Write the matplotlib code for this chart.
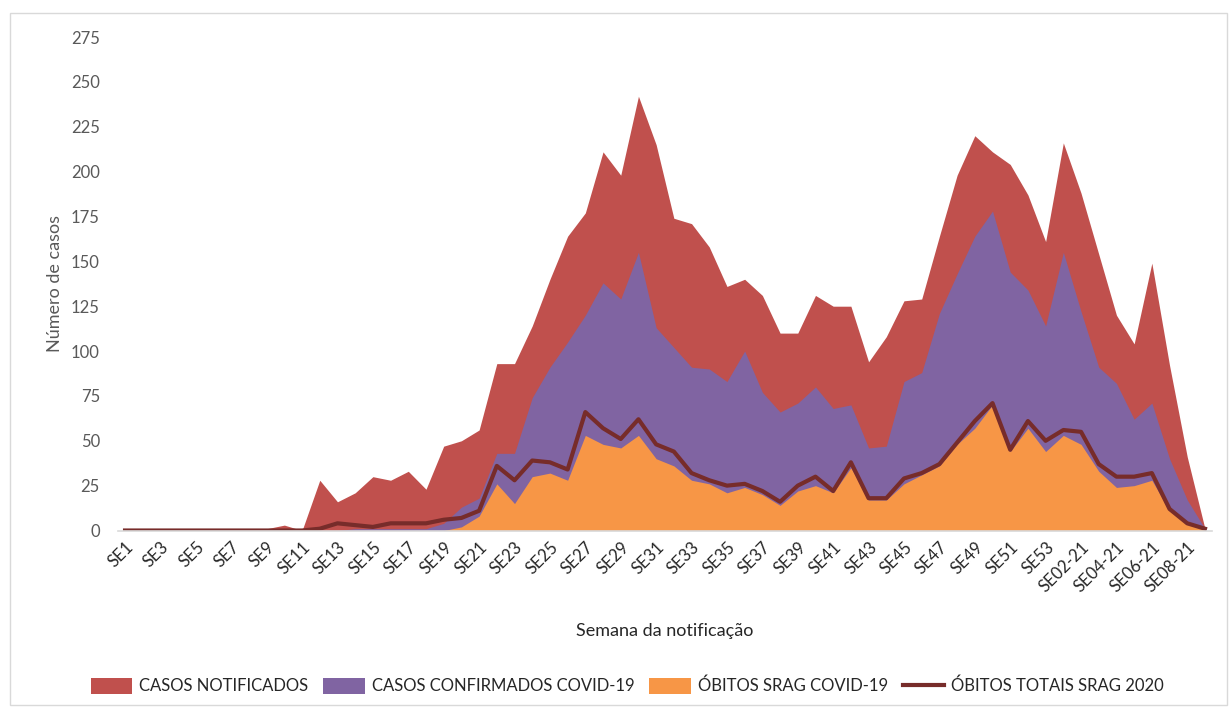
import numpy as np
import matplotlib.pyplot as plt
from matplotlib.patches import Rectangle

plt.rcParams['font.family'] = ['Lato', 'DejaVu Sans']

# week labels: SE1..SE53 (2020) + SE01-21..SE09-21
weeks = ['SE%d' % w for w in range(1, 54)] + ['SE%02d-21' % w for w in range(1, 10)]

casos_notificados = [0, 0, 0, 0, 0, 0, 0, 1, 1, 3,
                     0, 28, 16, 21, 30, 28, 33, 23, 47, 50,
                     56, 93, 93, 114, 140, 164, 177, 211, 198, 242,
                     215, 174, 171, 158, 136, 140, 131, 110, 110, 131,
                     125, 125, 94, 108, 128, 129, 164, 198, 220, 211,
                     204, 187, 161, 216, 188, 154, 120, 104, 149, 92,
                     41, 1]

casos_confirmados = [0, 0, 0, 0, 0, 0, 0, 0, 0, 0,
                     0, 0, 0, 1, 1, 1, 1, 1, 4, 13,
                     18, 43, 43, 74, 91, 105, 120, 138, 129, 155,
                     113, 102, 91, 90, 83, 100, 77, 66, 71, 80,
                     68, 70, 46, 47, 83, 88, 121, 143, 164, 178,
                     144, 134, 114, 155, 122, 91, 82, 62, 71, 40,
                     17, 1]

obitos_covid = [0, 0, 0, 0, 0, 0, 0, 0, 0, 0,
                0, 0, 0, 0, 0, 0, 0, 0, 0, 2,
                8, 26, 15, 30, 32, 28, 53, 48, 46, 53,
                40, 36, 28, 26, 21, 24, 20, 14, 22, 25,
                21, 35, 17, 17, 26, 31, 36, 48, 57, 70,
                44, 57, 44, 53, 48, 33, 24, 25, 28, 11,
                4, 1]

obitos_totais = [0, 0, 0, 0, 0, 0, 0, 0, 0, 0,
                 0, 1, 4, 3, 2, 4, 4, 4, 6, 7,
                 11, 36, 28, 39, 38, 34, 66, 57, 51, 62,
                 48, 44, 32, 28, 25, 26, 22, 16, 25, 30,
                 22, 38, 18, 18, 29, 32, 37, 49, 61, 71,
                 45, 61, 50, 56, 55, 37, 30, 30, 32, 12,
                 4, 1]

x = np.arange(len(weeks))

fig = plt.figure(figsize=(12.3, 7.08), dpi=100)
ax = fig.add_axes([0.0959, 0.2507, 0.8895, 0.697])

# light frame around the whole chart
fig.patches.append(Rectangle((10 / 1230, 3 / 708), 1217 / 1230, 692 / 708,
                             transform=fig.transFigure, fill=False,
                             edgecolor='#D9D9D9', linewidth=1.0))

ax.fill_between(x, casos_notificados, color='#C0504D', lw=0, label='CASOS NOTIFICADOS')
ax.fill_between(x, casos_confirmados, color='#8064A2', lw=0, label='CASOS CONFIRMADOS COVID-19')
ax.fill_between(x, obitos_covid, color='#F79646', lw=0, label='ÓBITOS SRAG COVID-19')
ax.plot(x, obitos_totais, color='#772C2A', lw=3, solid_joinstyle='round',
        label='ÓBITOS TOTAIS SRAG 2020')

ax.set_xlim(-0.4, len(weeks) - 1 + 0.4)
ax.set_ylim(0, 275)
ax.set_yticks(np.arange(0, 276, 25))
ax.set_xticks(x[::2])
ax.set_xticklabels(weeks[::2], rotation=45, ha='right', rotation_mode='anchor',
                   fontsize=12, color='#262626')
ax.tick_params(axis='y', length=0, pad=13, labelsize=12, labelcolor='#595959')
ax.tick_params(axis='x', length=0, pad=6)

for s in ['top', 'right', 'left']:
    ax.spines[s].set_visible(False)
ax.spines['bottom'].set_color('#D9D9D9')
ax.spines['bottom'].set_linewidth(1.2)

ax.set_ylabel('Número de casos', fontsize=13, color='#595959', labelpad=6)
ax.set_xlabel('Semana da notificação', fontsize=13, color='#262626', labelpad=20)

fig.legend(loc='center', bbox_to_anchor=(0.51, 0.031), ncol=4, frameon=False,
           fontsize=12, handlelength=2.5, handleheight=1.1, columnspacing=0.9,
           handletextpad=0.4, labelcolor='#262626')

plt.savefig('out.png', dpi=100)
